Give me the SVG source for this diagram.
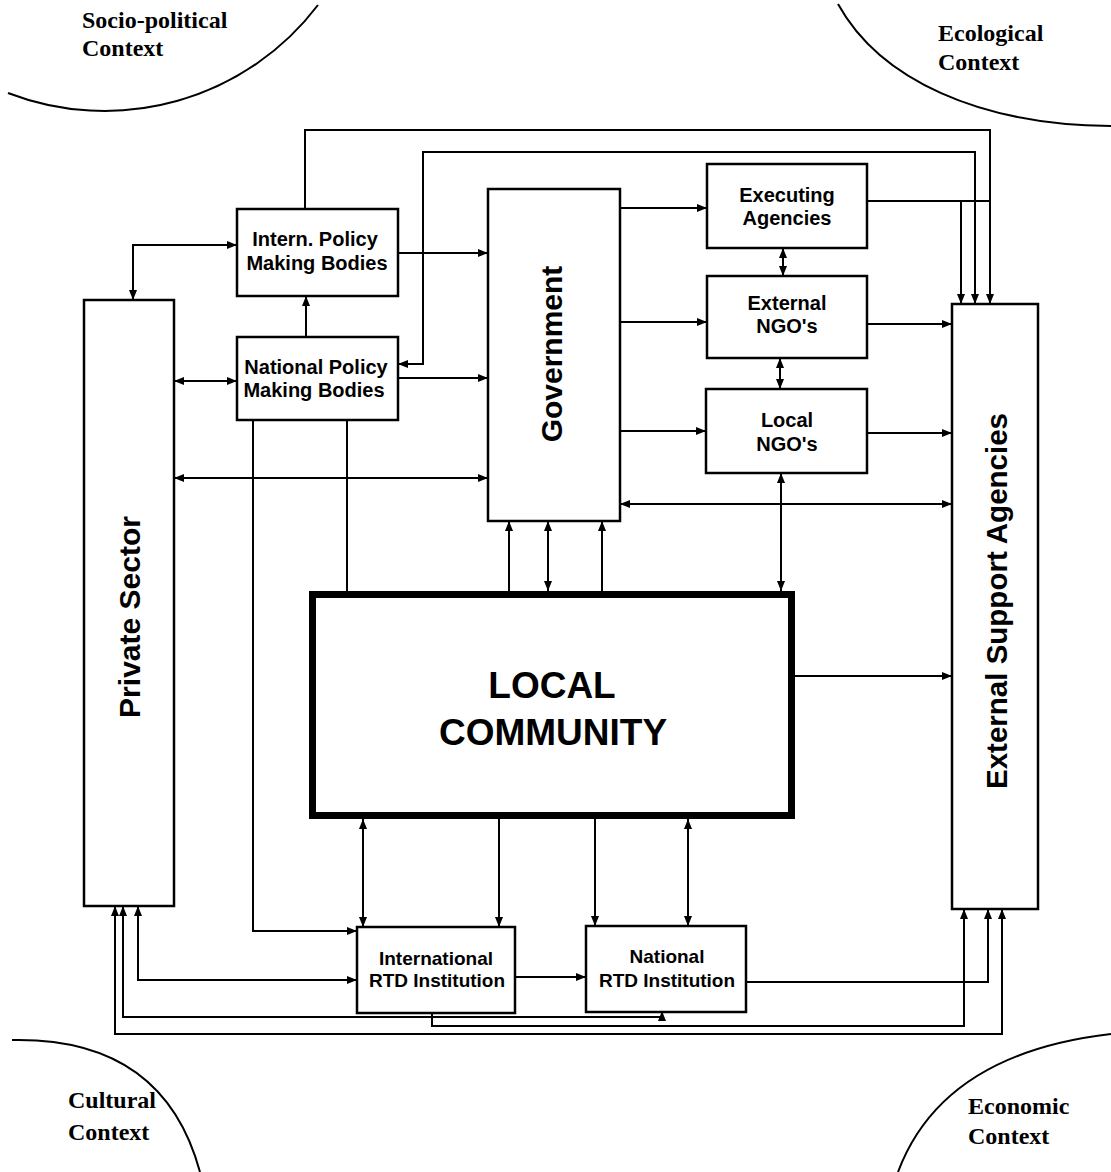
<svg xmlns="http://www.w3.org/2000/svg" width="1111" height="1172" viewBox="0 0 1111 1172">
<style>
.box{fill:#fff;stroke:#000;stroke-width:2.5}
.lc{fill:#fff;stroke:#000;stroke-width:7}
.ln{fill:none;stroke:#000;stroke-width:2}
.arc{fill:none;stroke:#000;stroke-width:2}
.ctx{font-family:"Liberation Serif","Times New Roman",serif;font-weight:bold;font-size:24px;fill:#000}
.lb{font-family:"Liberation Sans",Arial,sans-serif;font-weight:bold;font-size:20px;fill:#000;text-anchor:middle}
.sm{font-size:19px}
.big{font-size:30px}
.lcl{font-size:37px}
</style>
<defs>
<marker id="a" viewBox="0 0 10 8" refX="10" refY="4" markerWidth="10" markerHeight="8" markerUnits="userSpaceOnUse" orient="auto-start-reverse">
<path d="M0,0 L10,4 L0,8 z" fill="#000"/>
</marker>
</defs>
<rect width="1111" height="1172" fill="#fff"/>

<g id="contexts">
<path class="arc" d="M8,93 A268,268 0 0 0 318,5"/>
<path class="arc" d="M838,4 C880,80 980,125 1111,126"/>
<path class="arc" d="M12,1040 C110,1038 175,1080 200,1172"/>
<path class="arc" d="M898,1172 C925,1100 990,1048 1111,1034"/>
<text class="ctx" x="82" y="28">Socio-political</text>
<text class="ctx" x="82" y="56">Context</text>
<text class="ctx" x="938" y="41">Ecological</text>
<text class="ctx" x="938" y="70">Context</text>
<text class="ctx" x="68" y="1108">Cultural</text>
<text class="ctx" x="68" y="1140">Context</text>
<text class="ctx" x="968" y="1114">Economic</text>
<text class="ctx" x="968" y="1144">Context</text>
</g>

<g id="connectors" class="ln">
<path d="M305,209 V130 H990 V304" marker-end="url(#a)"/>
<path d="M398,364 H423 V152 H975 V304" marker-start="url(#a)" marker-end="url(#a)"/>
<path d="M867,201 H990 M961,201 V304" marker-end="url(#a)"/>
<path d="M398,253 H488" marker-end="url(#a)"/>
<path d="M398,378 H488" marker-end="url(#a)"/>
<path d="M133,300 V245 H237" marker-start="url(#a)" marker-end="url(#a)"/>
<path d="M174,381 H237" marker-start="url(#a)" marker-end="url(#a)"/>
<path d="M306,337 V296" marker-end="url(#a)"/>
<path d="M620,208 H707" marker-end="url(#a)"/>
<path d="M620,322 H707" marker-end="url(#a)"/>
<path d="M620,431 H706" marker-end="url(#a)"/>
<path d="M783,248 V276" marker-start="url(#a)" marker-end="url(#a)"/>
<path d="M780,358 V389" marker-start="url(#a)" marker-end="url(#a)"/>
<path d="M867,324 H952" marker-end="url(#a)"/>
<path d="M867,433 H952" marker-end="url(#a)"/>
<path d="M174,478 H488" marker-start="url(#a)" marker-end="url(#a)"/>
<path d="M620,504 H952" marker-start="url(#a)" marker-end="url(#a)"/>
<path d="M781,473 V591" marker-start="url(#a)" marker-end="url(#a)"/>
<path d="M509,591 V521" marker-end="url(#a)"/>
<path d="M548,591 V521" marker-start="url(#a)" marker-end="url(#a)"/>
<path d="M602,591 V521" marker-end="url(#a)"/>
<path d="M347,420 V591"/>
<path d="M253,420 V931 H357" marker-end="url(#a)"/>
<path d="M357,980 H138 V906" marker-start="url(#a)" marker-end="url(#a)"/>
<path d="M363,819 V927" marker-start="url(#a)" marker-end="url(#a)"/>
<path d="M499,819 V927" marker-end="url(#a)"/>
<path d="M595,819 V926" marker-end="url(#a)"/>
<path d="M688,819 V926" marker-start="url(#a)" marker-end="url(#a)"/>
<path d="M795,676 H952" marker-end="url(#a)"/>
<path d="M515,977 H586" marker-end="url(#a)"/>
<path d="M746,982 H988 V909" marker-end="url(#a)"/>
<path d="M123,906 V1017 H662 V1011" marker-start="url(#a)" marker-end="url(#a)"/>
<path d="M432,1013 V1026 H964 V909" marker-end="url(#a)"/>
<path d="M115,906 V1034 H1002 V909" marker-start="url(#a)" marker-end="url(#a)"/>
</g>

<g id="private-sector">
<rect class="box" x="84" y="300" width="90" height="606"/>
<text class="lb big" transform="translate(140,617) rotate(-90)">Private Sector</text>
</g>
<g id="intern-policy">
<rect class="box" x="237" y="209" width="161" height="87"/>
<text class="lb" x="315" y="246">Intern. Policy</text>
<text class="lb" x="317" y="270">Making Bodies</text>
</g>
<g id="national-policy">
<rect class="box" x="237" y="337" width="161" height="83"/>
<text class="lb" x="316" y="374">National Policy</text>
<text class="lb" x="314" y="397">Making Bodies</text>
</g>
<g id="government">
<rect class="box" x="488" y="189" width="132" height="332"/>
<text class="lb big" transform="translate(562,354) rotate(-90)">Government</text>
</g>
<g id="executing-agencies">
<rect class="box" x="707" y="164" width="160" height="84"/>
<text class="lb" x="787" y="202">Executing</text>
<text class="lb" x="787" y="225">Agencies</text>
</g>
<g id="external-ngos">
<rect class="box" x="707" y="276" width="160" height="82"/>
<text class="lb" x="787" y="310">External</text>
<text class="lb" x="787" y="333">NGO's</text>
</g>
<g id="local-ngos">
<rect class="box" x="706" y="389" width="161" height="84"/>
<text class="lb" x="787" y="427">Local</text>
<text class="lb" x="787" y="451">NGO's</text>
</g>
<g id="external-support-agencies">
<rect class="box" x="952" y="304" width="86" height="605"/>
<text class="lb big" style="font-size:29.5px" transform="translate(1007,601) rotate(-90)">External Support Agencies</text>
</g>
<g id="local-community">
<rect class="lc" x="312.5" y="594.5" width="479" height="221"/>
<text class="lb lcl" x="552" y="698">LOCAL</text>
<text class="lb lcl" x="553" y="745">COMMUNITY</text>
</g>
<g id="international-rtd">
<rect class="box" x="357" y="927" width="158" height="86"/>
<text class="lb sm" x="436" y="965">International</text>
<text class="lb sm" x="437" y="987">RTD Institution</text>
</g>
<g id="national-rtd">
<rect class="box" x="586" y="926" width="160" height="86"/>
<text class="lb sm" x="667" y="963">National</text>
<text class="lb sm" x="667" y="987">RTD Institution</text>
</g>
</svg>
